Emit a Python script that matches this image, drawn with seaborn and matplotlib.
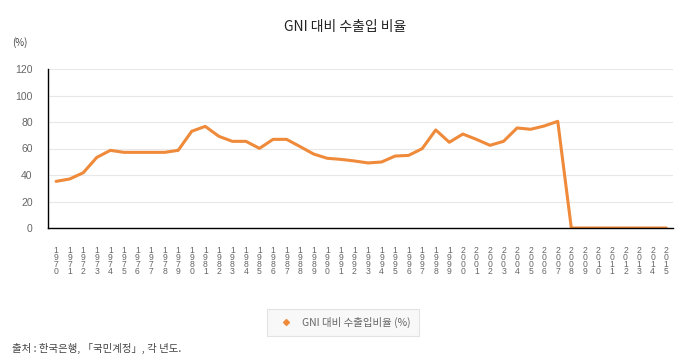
import numpy as np
import pandas as pd
import seaborn as sns
from matplotlib import pyplot as plt
from matplotlib.lines import Line2D

# GNI 대비 수출입 비율 (%), 1970-2015
years = list(range(1970, 2016))
ratio = [
    35.2, 37.0, 41.7, 53.3, 58.6, 57.1, 57.1, 57.1, 57.1, 58.6,
    73.0, 76.7, 69.2, 65.4, 65.4, 60.1, 66.9, 66.9, 61.4, 55.8,
    52.6, 51.8, 50.6, 49.1, 49.8, 54.3, 54.8, 59.9, 74.0, 64.7,
    70.9, 66.9, 62.4, 65.4, 75.5, 74.5, 77.0, 80.5, 0, 0,
    0, 0, 0, 0, 0, 0,
]
yticks = [0, 20, 40, 60, 80, 100, 120]

title = "GNI 대비 수출입 비율"
series_name = "GNI 대비 수출입비율 (%)"
source = "출처 : 한국은행, 「국민계정」, 각 년도."

LINE = "#ef8a3a"
TEXT = "#666666"

sns.set_style("white")
plt.rcParams["font.family"] = ["Noto Sans CJK KR", "DejaVu Sans"]

df = pd.DataFrame({"pos": np.arange(len(years)), "ratio": ratio})

fig = plt.figure(figsize=(6.9, 3.6), dpi=100)
ax = fig.add_axes([48 / 690, 132 / 360, 625 / 690, 159 / 360])

sns.lineplot(data=df, x="pos", y="ratio", color=LINE, linewidth=2.2, ax=ax)

ax.set_xlim(-0.6, len(years) - 0.5)
ax.set_ylim(0, 120)
ax.set_yticks(yticks)
ax.set_yticklabels([str(v) for v in yticks], color=TEXT, fontsize=7.5,
                   family="Liberation Sans")
ax.set_xticks(df["pos"])
ax.set_xticklabels(["\n".join(str(y)) for y in years], color=TEXT,
                   fontsize=6.2, linespacing=0.72, va="top", family="Liberation Sans")
ax.tick_params(axis="y", length=0, pad=11)
ax.tick_params(axis="x", length=0, pad=13)
ax.grid(axis="y", color="#e8e8e8", linewidth=0.8)
ax.set_axisbelow(True)
ax.set_xlabel("")
ax.set_ylabel("")
for side in ["top", "right"]:
    ax.spines[side].set_visible(False)
for side in ["left", "bottom"]:
    ax.spines[side].set_color("black")
    ax.spines[side].set_linewidth(1.0)

fig.text(0.5, 1 - 27 / 360, title, ha="center", va="center", fontsize=10, color="#222222")
fig.text(12 / 690, 1 - 43 / 360, "(%)", ha="left", va="center", fontsize=7, color="#444444")
fig.text(12 / 690, 1 - 348 / 360, source, ha="left", va="center", fontsize=7.5, color="#444444")

handle = Line2D([], [], marker="D", markersize=3, color=LINE, linestyle="none")
leg = fig.legend([handle], [series_name], loc="center", bbox_to_anchor=(343 / 690, 1 - 322.5 / 360),
                 fontsize=7.5, frameon=True, fancybox=False, handletextpad=0.6,
                 borderpad=0.8, labelcolor=TEXT)
leg.get_frame().set_edgecolor("#dddddd")
leg.get_frame().set_facecolor("#f7f7f7")
leg.get_frame().set_linewidth(0.8)

fig.savefig("out.png", dpi=100)
